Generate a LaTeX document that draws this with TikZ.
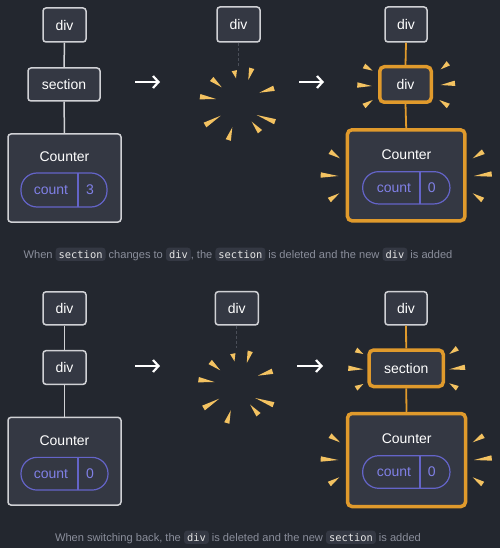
\documentclass[tikz,border=0pt]{standalone}
\usepackage{fontspec}
\setmainfont{Liberation Sans}
\setmonofont{DejaVu Sans Mono}
\usetikzlibrary{calc,arrows.meta}
\definecolor{bgcol}{HTML}{23272F}
\definecolor{nodefill}{HTML}{343843}
\definecolor{nodeline}{HTML}{D0D1D5}
\definecolor{orangeline}{HTML}{E09A2C}
\definecolor{raycol}{HTML}{F3C261}
\definecolor{pillline}{HTML}{6464C8}
\definecolor{pilltext}{HTML}{8080E6}
\definecolor{captext}{HTML}{8A8E9B}
\definecolor{chipbg}{HTML}{343843}
\definecolor{chiptext}{HTML}{E6E6E6}
\definecolor{dashcol}{HTML}{4A4E58}
\tikzset{
  treebox/.style={draw=nodeline, line width=1.5pt, fill=nodefill, rounded corners=3pt,
    text=white, font=\fontsize{14}{16}\selectfont, inner sep=0pt},
  hotbox/.style={treebox, draw=orangeline, line width=3.5pt, rounded corners=4.5pt},
  pillbox/.style={draw=pillline, line width=1.2pt, rounded corners=16pt, inner sep=0pt},
  pilllabel/.style={text=pilltext, font=\fontsize{14}{16}\selectfont, inner sep=0pt},
  titlelabel/.style={text=white, font=\fontsize{14}{16}\selectfont, inner sep=0pt},
  link/.style={draw=nodeline, line width=1.5pt},
  hotlink/.style={draw=orangeline, line width=1.8pt},
  ghostlink/.style={draw=dashcol, line width=1.2pt, dash pattern=on 3pt off 2pt},
  steparrow/.style={draw=white, line width=2.2pt, -{Straight Barb[length=5.5pt,width=12pt,line width=2.2pt]}},
  caption/.style={text=captext, font=\fontsize{11.1}{13}\selectfont, inner sep=0pt},
  chipstyle/.style={fill=chipbg, rounded corners=3pt, inner xsep=3pt, inner ysep=2.6pt,
    text=chiptext, font=\ttfamily\fontsize{10.4}{12}\selectfont}
}
\newcommand\chip[1]{\tikz[baseline=(chipnode.base)]\node[chipstyle](chipnode){#1};}
\newcommand\ray[2]{\fill[raycol] (#1) -- ($(#2)!2.7pt!90:(#1)$) -- ($(#2)!2.7pt!-90:(#1)$) -- cycle;}
\newcommand\burst{%
  \ray{236,78.3}{234.3,70.7}
  \ray{248.3,80}{251.7,68.3}
  \ray{221.7,87.3}{211.7,79}
  \ray{216,99}{200,96.7}
  \ray{259.3,92.7}{274,88.3}
  \ray{220.7,115.7}{205,125}
  \ray{256.7,115}{275,121.7}
  \ray{232.3,127.3}{228.3,140}
  \ray{251.7,121.7}{260,131.7}}
\newcommand\counterrays{%
  \ray{340,158.3}{330,151.7}
  \ray{338.3,176}{320.7,175}
  \ray{339.3,193.3}{329.3,200}
  \ray{472.7,158.3}{483.3,151.7}
  \ray{474,176}{491.7,174}
  \ray{472.7,193.3}{482.7,200}}
\begin{document}
\begin{tikzpicture}[x=1pt,y=-1pt]
\fill[bgcol] (0,0) rectangle (500,548);
\useasboundingbox (0,0) rectangle (500,548);

% ---------- top row ----------
% left tree
\node[treebox, minimum width=43pt, minimum height=34pt] (d1) at (64.5,25) {div};
\node[treebox, minimum width=72pt, minimum height=33pt] (s1) at (64,84.5) {section};
\node[treebox, minimum width=113pt, minimum height=88pt] (c1) at (64.5,178) {};
\draw[link] (d1.south) -- (s1.north);
\draw[link] (s1.south) -- (c1.north);
\node[titlelabel] (c1t) at (64.5,157) {Counter};
\node[pillbox, minimum width=86pt, minimum height=34pt] (p1) at (64,190) {};
\draw[pillline, line width=1.2pt] (78,173) -- (78,207);
\node[pilllabel] (p1a) at (51,190) {count};
\node[pilllabel] (p1b) at (90,190) {3};

\coordinate (a1s) at (135,82);
\coordinate (a1e) at (160,82);
\draw[steparrow] (a1s) -- (a1e);

% middle
\node[treebox, minimum width=43pt, minimum height=35pt] (d2) at (238.5,24.5) {div};
\coordinate (g2) at (238.5,67);
\draw[ghostlink] (d2.south) -- (g2);
\burst

\coordinate (a2s) at (299,82);
\coordinate (a2e) at (324,82);
\draw[steparrow] (a2s) -- (a2e);

% right tree
\node[treebox, minimum width=42pt, minimum height=35pt] (d3) at (406,24.5) {div};
\node[hotbox, minimum width=51.5pt, minimum height=35.5pt] (d4) at (405.5,84.5) {div};
\node[hotbox, minimum width=117.5pt, minimum height=91pt] (c3) at (406.2,175.3) {};
\draw[hotlink] (d3.south) -- (d4.north);
\draw[hotlink] (d4.south) -- (c3.north);
\node[titlelabel] (c3t) at (406.5,155) {Counter};
\node[pillbox, minimum width=87.3pt, minimum height=32.3pt] (p3) at (406.3,187.8) {};
\draw[pillline, line width=1.2pt] (420,171.7) -- (420,204);
\node[pilllabel] (p3a) at (394,187.8) {count};
\node[pilllabel] (p3b) at (431.7,187.8) {0};
\ray{372.7,70.7}{364,66}
\ray{371.7,86}{357.3,85}
\ray{372.7,100}{364,106}
\ray{440.7,69.3}{448.3,63.3}
\ray{440.7,85}{455,83.3}
\ray{439.3,100}{448.3,106}
\counterrays

\node[caption] (cap1) at (238,254.3) {When \chip{section} changes to \chip{div}, the \chip{section} is deleted and the new \chip{div} is added};

% ---------- bottom row ----------
\node[treebox, minimum width=43pt, minimum height=33pt] (d5) at (64.5,308.3) {div};
\node[treebox, minimum width=43pt, minimum height=33.7pt] (d6) at (64.5,367.5) {div};
\node[treebox, minimum width=113pt, minimum height=87.7pt] (c5) at (64.5,461.2) {};
\draw[link] (d5.south) -- (d6.north);
\draw[link] (d6.south) -- (c5.north);
\node[titlelabel] (c5t) at (64.5,441) {Counter};
\node[pillbox, minimum width=87pt, minimum height=32.7pt] (p5) at (64.5,473.7) {};
\draw[pillline, line width=1.2pt] (78,457.3) -- (78,490);
\node[pilllabel] (p5a) at (51,473.7) {count};
\node[pilllabel] (p5b) at (90,473.7) {0};

\coordinate (a3s) at (135,366);
\coordinate (a3e) at (160,366);
\draw[steparrow] (a3s) -- (a3e);

\node[treebox, minimum width=43pt, minimum height=33.3pt] (d7) at (236.8,308.3) {div};
\coordinate (g7) at (236.8,348);
\draw[ghostlink] (d7.south) -- (g7);
\begin{scope}[shift={(-1.5,283)}]
\burst
\end{scope}

\coordinate (a4s) at (297,366);
\coordinate (a4e) at (323,366);
\draw[steparrow] (a4s) -- (a4e);

\node[treebox, minimum width=42pt, minimum height=33.3pt] (d8) at (406,308.3) {div};
\node[hotbox, minimum width=74.2pt, minimum height=36.5pt] (s8) at (406.2,368.3) {section};
\node[hotbox, minimum width=118pt, minimum height=93pt] (c8) at (406.5,460) {};
\draw[hotlink] (d8.south) -- (s8.north);
\draw[hotlink] (s8.south) -- (c8.north);
\node[titlelabel] (c8t) at (406.7,439) {Counter};
\node[pillbox, minimum width=87.3pt, minimum height=32.6pt] (p8) at (406.3,472) {};
\draw[pillline, line width=1.2pt] (420,455.7) -- (420,488.3);
\node[pilllabel] (p8a) at (394,472) {count};
\node[pilllabel] (p8b) at (431.7,472) {0};
\ray{363.3,354}{356,350}
\ray{363.3,369.3}{348.3,368.3}
\ray{363.3,384}{356,388.3}
\ray{449.3,354}{457.3,348.3}
\ray{449.3,369.3}{465,367.3}
\ray{449.3,383.3}{457.3,388.3}
\begin{scope}[shift={(0,284)}]
\counterrays
\end{scope}

\node[caption] (cap2) at (238,537.3) {When switching back, the \chip{div} is deleted and the new \chip{section} is added};
\end{tikzpicture}
\end{document}
